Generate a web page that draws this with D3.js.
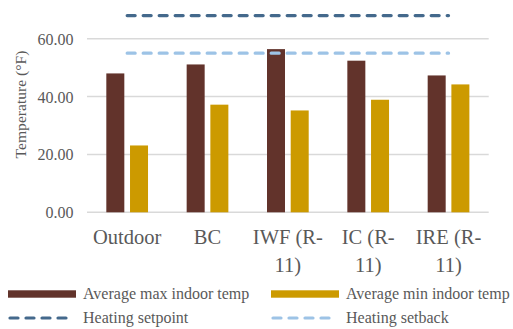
<!DOCTYPE html>
<html>
<head>
<meta charset="utf-8">
<script src="https://cdn.jsdelivr.net/npm/d3@7"></script>
<style>
  body { margin: 0; background: #fff; }
  text { font-family: "Liberation Serif", "Times New Roman", serif; fill: #595959; }
</style>
</head>
<body>
<svg id="chart" width="513" height="329"></svg>
<script>
// Sites compared
const categories = ["Outdoor", "BC", "IWF (R-11)", "IC (R-11)", "IRE (R-11)"];
// Label lines under each category
const categoryLines = [["Outdoor"], ["BC"], ["IWF (R-", "11)"], ["IC (R-", "11)"], ["IRE (R-", "11)"]];
// Average max / min indoor temperatures (°F)
const avgMax = [48.0, 51.1, 56.4, 52.4, 47.3];
const avgMin = [23.1, 37.2, 35.2, 38.9, 44.2];
// Thermostat settings (°F)
const setpoint = [68, 68, 68, 68, 68];
const setback = [55, 55, 55, 55, 55];
// Y axis ticks
const yTicks = [0, 20, 40, 60];

const colors = {
  max: "#62332B",
  min: "#CC9A00",
  setpoint: "#44698C",
  setback: "#9DC3E6"
};

const svg = d3.select("#chart");
const margin = { left: 87, right: 24, top: 5, bottom: 117 };
const W = 513, H = 329;
const plotTop = 38.7 - (212.3 - 38.7) / 60 * 0; // placeholder not used

const x = d3.scaleBand().domain(categories).range([87, 488.7]).paddingInner(0).paddingOuter(0);
const y = d3.scaleLinear().domain([0, 60]).range([212.3, 38.7]);

// Gridlines
svg.append("g").selectAll("line").data(yTicks).join("line")
  .attr("x1", 87).attr("x2", 488.7)
  .attr("y1", d => y(d)).attr("y2", d => y(d))
  .attr("stroke", "#D9D9D9").attr("stroke-width", 1.5);

// Y axis tick labels
const yAxis = d3.axisLeft(y).tickValues(yTicks).tickFormat(d3.format(".2f")).tickSize(0).tickPadding(0);
const yg = svg.append("g").attr("transform", "translate(73.5,0)").call(yAxis);
yg.select(".domain").remove();
yg.selectAll("text")
  .attr("font-family", "Liberation Serif, Times New Roman, serif")
  .attr("font-size", 16).attr("fill", "#595959").attr("dy", "0.34em");

// Y axis title
svg.append("text")
  .attr("transform", "translate(26,104.5) rotate(-90)")
  .attr("text-anchor", "middle")
  .attr("font-size", 15.6)
  .text("Temperature (°F)");

// Bars
const barW = 18;
const gap = 5.7;
const groupW = barW * 2 + gap;
const bx0 = c => x(c) + (x.bandwidth() - groupW) / 2;

svg.append("g").selectAll("rect").data(categories).join("rect")
  .attr("x", c => bx0(c))
  .attr("y", (c, i) => y(avgMax[i]))
  .attr("width", barW)
  .attr("height", (c, i) => y(0) - y(avgMax[i]))
  .attr("fill", colors.max);

svg.append("g").selectAll("rect").data(categories).join("rect")
  .attr("x", c => bx0(c) + barW + gap)
  .attr("y", (c, i) => y(avgMin[i]))
  .attr("width", barW)
  .attr("height", (c, i) => y(0) - y(avgMin[i]))
  .attr("fill", colors.min);

// Setpoint / setback lines through category centres
const line = d3.line()
  .x((d, i) => x(categories[i]) + x.bandwidth() / 2)
  .y(d => y(d));

svg.append("path").datum(setback)
  .attr("d", line).attr("fill", "none")
  .attr("stroke", colors.setback).attr("stroke-width", 3.2)
  .attr("stroke-dasharray", "8,8").attr("stroke-linecap", "round");

svg.append("path").datum(setpoint)
  .attr("d", line).attr("fill", "none")
  .attr("stroke", colors.setpoint).attr("stroke-width", 3.2)
  .attr("stroke-dasharray", "8,8").attr("stroke-linecap", "round");

// Category labels
const xl = svg.append("g").selectAll("text").data(categories).join("text")
  .attr("x", c => x(c) + x.bandwidth() / 2)
  .attr("y", 244)
  .attr("text-anchor", "middle")
  .attr("font-size", 20.5);
xl.each(function (c, i) {
  d3.select(this).selectAll("tspan").data(categoryLines[i]).join("tspan")
    .attr("x", x(c) + x.bandwidth() / 2)
    .attr("dy", (d, j) => j === 0 ? 0 : 27.5)
    .text(d => d);
});

// Legend
const legend = [
  { label: "Average max indoor temp", color: colors.max, type: "bar", lx: 8, ly: 294 },
  { label: "Average min indoor temp", color: colors.min, type: "bar", lx: 271, ly: 294 },
  { label: "Heating setpoint", color: colors.setpoint, type: "line", lx: 8, ly: 318 },
  { label: "Heating setback", color: colors.setback, type: "line", lx: 271, ly: 318 }
];
const lg = svg.append("g").selectAll("g").data(legend).join("g")
  .attr("transform", d => `translate(${d.lx},${d.ly})`);
lg.filter(d => d.type === "bar").append("rect")
  .attr("x", 0).attr("y", -3.7).attr("width", 68).attr("height", 7.4)
  .attr("fill", d => d.color);
lg.filter(d => d.type === "line").append("line")
  .attr("x1", 2).attr("x2", 66).attr("y1", 0).attr("y2", 0)
  .attr("stroke", d => d.color).attr("stroke-width", 3.2)
  .attr("stroke-dasharray", "8,8").attr("stroke-linecap", "round");
lg.append("text")
  .attr("x", 75).attr("y", 0).attr("dy", "0.34em")
  .attr("font-size", 16)
  .text(d => d.label);
</script>
</body>
</html>
